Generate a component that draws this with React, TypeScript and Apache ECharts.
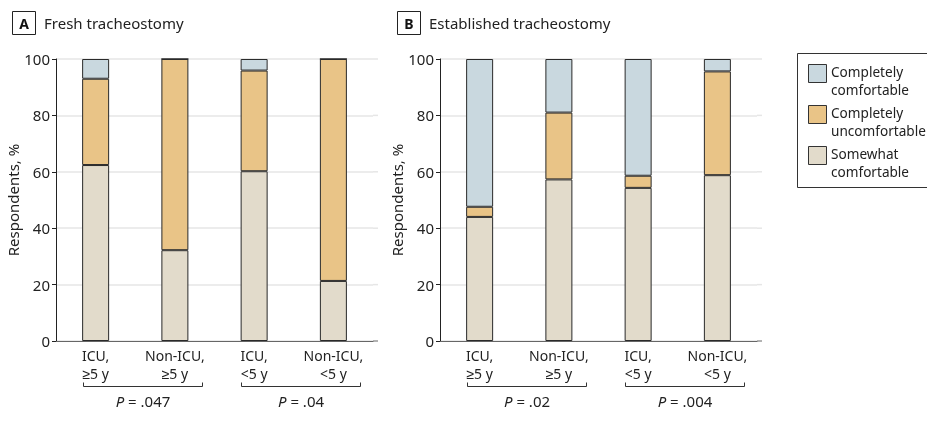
import React, { useEffect, useRef } from "react";
import * as echarts from "echarts";

const categories = ["ICU,\n≥5 y", "Non-ICU,\n≥5 y", "ICU,\n<5 y", "Non-ICU,\n<5 y"];
const seriesNames = ["Completely comfortable", "Completely uncomfortable", "Somewhat comfortable"];
const legendLabels = ["Completely\ncomfortable", "Completely\nuncomfortable", "Somewhat\ncomfortable"];

// Panel A: Fresh tracheostomy
const freshSomewhat = [62.4, 32.2, 60.2, 21.3];
const freshUncomfortable = [30.6, 67.8, 35.7, 78.7];
const freshComfortable = [7.0, 0, 4.1, 0];

// Panel B: Established tracheostomy
const estSomewhat = [44.0, 57.3, 54.3, 58.8];
const estUncomfortable = [3.6, 23.7, 4.3, 36.8];
const estComfortable = [52.4, 19.0, 41.4, 4.4];

const panelTitles = ["Fresh tracheostomy", "Established tracheostomy"];
const panelLetters = ["A", "B"];
const pValues = [[".047", ".04"], [".02", ".004"]];
const yTicks = { min: 0, max: 100, interval: 20 };

const colors = {
  comfortable: "#c9d8df",
  uncomfortable: "#e9c487",
  somewhat: "#e2dbcb",
};
const FONT = "'Noto Sans', sans-serif";

export default function App() {
  const ref = useRef<HTMLDivElement>(null);
  useEffect(() => {
    if (!ref.current) return;
    const chart = echarts.init(ref.current, undefined, { renderer: "svg" });
    const grids = [
      { left: 56, top: 59, width: 317, height: 282 },
      { left: 440, top: 59, width: 317, height: 282 },
    ];
    const panelData = [
      [freshComfortable, freshUncomfortable, freshSomewhat],
      [estComfortable, estUncomfortable, estSomewhat],
    ];
    const fillColors = [colors.comfortable, colors.uncomfortable, colors.somewhat];

    const series: any[] = [];
    [0, 1].forEach((p) => {
      // stack bottom to top: somewhat, uncomfortable, comfortable
      [2, 1, 0].forEach((k) => {
        series.push({
          type: "bar",
          name: seriesNames[k],
          xAxisIndex: p,
          yAxisIndex: p,
          stack: "s" + p,
          barWidth: 27,
          data: panelData[p][k],
          itemStyle: { color: fillColors[k], borderColor: "#2a2a2a", borderWidth: 1 },
          emphasis: { disabled: true },
        });
      });
    });

    const graphic: any[] = [];
    [0, 1].forEach((p) => {
      const g = grids[p];
      const boxX = p === 0 ? 12 : 397;
      graphic.push({
        type: "rect",
        shape: { x: boxX + 0.5, y: 11.5, width: 23, height: 23 },
        style: { fill: "#fff", stroke: "#222", lineWidth: 1 },
      });
      graphic.push({
        type: "text",
        x: boxX + 12,
        y: 23.5,
        style: {
          text: panelLetters[p],
          fontFamily: FONT,
          fontSize: 14,
          fontWeight: "bold",
          fill: "#111",
          textAlign: "center",
          textVerticalAlign: "middle",
        },
      });
      graphic.push({
        type: "text",
        x: boxX + 32,
        y: 23,
        style: {
          text: panelTitles[p],
          fontFamily: FONT,
          fontSize: 15,
          fill: "#222",
          textAlign: "left",
          textVerticalAlign: "middle",
        },
      });
      // extend axis baseline and gridlines slightly beyond the last band, as in the reference
      const right = g.left + g.width;
      for (let t = yTicks.min; t <= yTicks.max; t += yTicks.interval) {
        const yy = g.top + g.height - (t - yTicks.min) / (yTicks.max - yTicks.min) * g.height;
        graphic.push({
          type: "line",
          z: -1,
          shape: { x1: right, y1: yy, x2: right + 5, y2: yy },
          style: { stroke: t === 0 ? "#666" : "#e6e6e6", lineWidth: t === 0 ? 1 : 1.5 },
        });
      }
      const band = g.width / categories.length;
      const center = (i: number) => g.left + band * (i + 0.5);
      [0, 1].forEach((b) => {
        const x1 = Math.round(center(b * 2) - 13) + 0.5;
        const x2 = Math.round(center(b * 2 + 1) + 27) + 0.5;
        graphic.push({
          type: "polyline",
          shape: { points: [[x1, 382.5], [x1, 386.5], [x2, 386.5], [x2, 382.5]] },
          style: { stroke: "#333", lineWidth: 1, fill: null },
        });
        graphic.push({
          type: "text",
          x: (x1 + x2) / 2,
          y: 401,
          style: {
            text: "{i|P} = " + pValues[p][b],
            fontFamily: FONT,
            fontSize: 15,
            fill: "#222",
            textAlign: "center",
            textVerticalAlign: "middle",
            rich: { i: { fontStyle: "italic", fontFamily: FONT, fontSize: 15, fill: "#222" } },
          },
        });
      });
    });

    // legend
    graphic.push({
      type: "rect",
      shape: { x: 797.5, y: 53.5, width: 160, height: 134 },
      style: { fill: "#fff", stroke: "#333", lineWidth: 1 },
    });
    legendLabels.forEach((lab, i) => {
      const y0 = 64 + i * 41;
      graphic.push({
        type: "rect",
        shape: { x: 808.5, y: y0 + 0.5, width: 18, height: 18 },
        style: { fill: fillColors[i], stroke: "#333", lineWidth: 1 },
      });
      graphic.push({
        type: "text",
        x: 831,
        y: y0 - 1,
        style: {
          text: lab,
          fontFamily: FONT,
          fontSize: 13.6,
          lineHeight: 17.5,
          fill: "#222",
          textAlign: "left",
          textVerticalAlign: "top",
        },
      });
    });

    chart.setOption({
      animation: false,
      textStyle: { fontFamily: FONT },
      grid: grids.map((g) => ({ ...g, containLabel: false })),
      xAxis: [0, 1].map((p) => ({
        type: "category",
        gridIndex: p,
        data: categories,
        axisLine: { lineStyle: { color: "#666", width: 1 } },
        axisTick: { show: false },
        axisLabel: {
          color: "#222",
          fontSize: 14,
          lineHeight: 18,
          margin: 5,
          interval: 0,
          fontFamily: FONT,
        },
      })),
      yAxis: [0, 1].map((p) => ({
        type: "value",
        gridIndex: p,
        min: yTicks.min,
        max: yTicks.max,
        interval: yTicks.interval,
        name: "Respondents, %",
        nameLocation: "middle",
        nameRotate: 90,
        nameGap: 35,
        nameTextStyle: { fontSize: 15, color: "#222", fontFamily: FONT },
        axisLine: { show: true, lineStyle: { color: "#222", width: 1 } },
        axisTick: { show: true, length: 4, lineStyle: { color: "#222" } },
        axisLabel: { color: "#222", fontSize: 15, margin: 6, fontFamily: FONT },
        splitLine: { show: true, lineStyle: { color: "#e6e6e6", width: 1.5 } },
      })),
      series,
      graphic,
    });
    return () => chart.dispose();
  }, []);
  return (
    <div
      ref={ref}
      style={{ position: "fixed", left: 0, top: 0, width: 927, height: 428 }}
    />
  );
}
